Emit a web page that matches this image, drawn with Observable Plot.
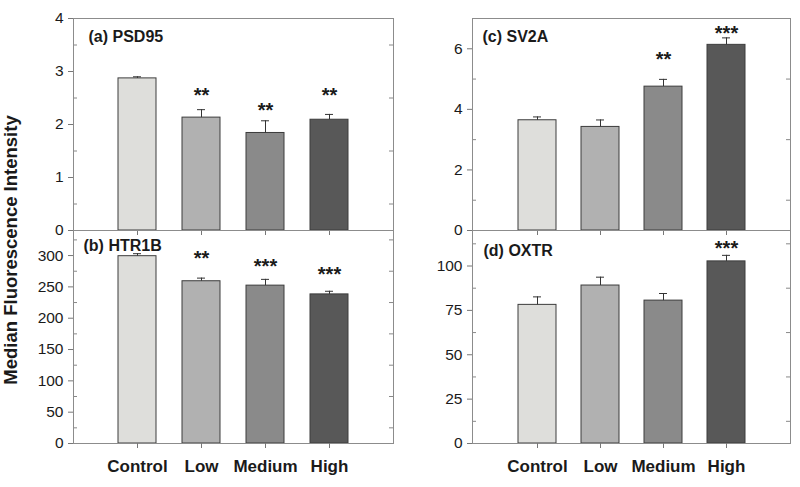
<!DOCTYPE html>
<html>
<head>
<meta charset="utf-8">
<script src="https://cdn.jsdelivr.net/npm/d3@7"></script>
<script src="https://cdn.jsdelivr.net/npm/@observablehq/plot@0.6"></script>
<style>
  html, body { margin: 0; padding: 0; background: #fff; }
  #chart { position: relative; width: 800px; height: 487px; background: #fff; overflow: hidden; }
  #chart > svg { position: absolute; }
</style>
</head>
<body>
<div id="chart"></div>
<script>
// ---- data ----
const categories = ["Control", "Low", "Medium", "High"];
const barColors = ["#dededb", "#b1b1b1", "#8a8a8a", "#585858"];

const psd95Mean = [2.87, 2.13, 1.84, 2.09];
const psd95Sem = [0.03, 0.15, 0.23, 0.10];
const psd95Stars = ["", "**", "**", "**"];
const psd95StarY = [null, 2.58, 2.30, 2.58];
const psd95Ticks = [0, 1, 2, 3, 4];
const psd95Minor = [0.5, 1.5, 2.5, 3.5];

const htr1bMean = [299, 259, 252, 238];
const htr1bSem = [4, 5, 10, 5];
const htr1bStars = ["", "**", "***", "***"];
const htr1bStarY = [null, 299, 286, 273];
const htr1bTicks = [0, 50, 100, 150, 200, 250, 300];
const htr1bMinor = [25, 75, 125, 175, 225, 275, 325];

const sv2aMean = [3.64, 3.42, 4.75, 6.13];
const sv2aSem = [0.11, 0.23, 0.24, 0.23];
const sv2aStars = ["", "", "**", "***"];
const sv2aStarY = [null, null, 5.71, 6.58];
const sv2aTicks = [0, 2, 4, 6];
const sv2aMinor = [1, 3, 5];

const oxtrMean = [78.1, 89.0, 80.5, 102.6];
const oxtrSem = [4.5, 4.7, 4.0, 3.4];
const oxtrStars = ["", "", "", "***"];
const oxtrStarY = [null, null, null, 110.7];
const oxtrTicks = [0, 25, 50, 75, 100];
const oxtrMinor = [12.5, 37.5, 62.5, 87.5, 112.5];

const yTitle = "Median Fluorescence Intensity";

// ---- drawing ----
const FONT = "'Liberation Sans', Arial, Helvetica, sans-serif";
const root = document.getElementById("chart");

function panel(cfg) {
  const rows = categories.map((c, i) => ({
    cat: c, mean: cfg.mean[i], hi: cfg.mean[i] + cfg.sem[i],
    star: cfg.stars[i], starY: cfg.starY[i]
  }));
  const frameW = cfg.width - cfg.ml - cfg.mr;
  const p = Plot.plot({
    width: cfg.width, height: cfg.height,
    marginLeft: cfg.ml, marginRight: cfg.mr, marginTop: cfg.mt, marginBottom: cfg.mb,
    style: { fontFamily: FONT, fontSize: "15px", color: "#1a1a1a", background: "transparent", overflow: "visible" },
    x: { type: "band", domain: categories, paddingInner: 0.4, paddingOuter: 0.7, axis: null },
    y: { domain: cfg.domain, axis: null },
    color: { domain: categories, range: barColors },
    marks: [
      Plot.barY(rows, { x: "cat", y: "mean", fill: "cat", stroke: "#3c3c3c", strokeWidth: 1 }),
      Plot.ruleX(rows, { x: "cat", y1: "mean", y2: "hi", stroke: "#333", strokeWidth: 1 }),
      Plot.tickY(rows, { x: "cat", y: "hi", stroke: "#333", strokeWidth: 1, insetLeft: 15, insetRight: 15 }),
      Plot.text(rows.filter(d => d.star), { x: "cat", y: "starY", text: "star", fontSize: 20, fontWeight: "bold", fill: "#1a1a1a", dy: 2 }),
      Plot.tickY(cfg.minor, { y: d => d, stroke: "#888", insetRight: frameW - 4 }),
      Plot.tickY(cfg.minor, { y: d => d, stroke: "#888", insetLeft: frameW - 4 }),
      Plot.frame({ stroke: "#8c8c8c", strokeWidth: 1 }),
      Plot.axisY({ anchor: "left", ticks: cfg.ticks, tickFormat: d => String(d), tickSize: 5, tickPadding: 5,
        label: null, stroke: "#777", fill: "#1a1a1a", fontSize: 15.5 }),
      Plot.axisX({ anchor: "bottom", tickSize: 5, tickPadding: 11, label: null, stroke: "#777", fill: "#1a1a1a",
        fontSize: 17, fontWeight: "bold", tickFormat: cfg.showX ? (d => d) : (() => "") }),
      Plot.text([cfg.label], { frameAnchor: "top-left", textAnchor: "start", lineAnchor: "top",
        dx: cfg.ldx, dy: cfg.ldy, fontSize: 16, fontWeight: "bold", fill: "#1a1a1a" })
    ]
  });
  p.style.left = cfg.left + "px";
  p.style.top = cfg.top + "px";
  root.appendChild(p);
}

panel({ mean: psd95Mean, sem: psd95Sem, stars: psd95Stars, starY: psd95StarY, ticks: psd95Ticks, minor: psd95Minor,
  domain: [0, 4], label: "(a) PSD95", left: 0, top: 0, width: 400, height: 240, ml: 73, mr: 7, mt: 18, mb: 10,
  showX: false, ldx: 15, ldy: 12 });
panel({ mean: htr1bMean, sem: htr1bSem, stars: htr1bStars, starY: htr1bStarY, ticks: htr1bTicks, minor: htr1bMinor,
  domain: [0, 340], label: "(b) HTR1B", left: 0, top: 220, width: 400, height: 267, ml: 73, mr: 7, mt: 10, mb: 44,
  showX: true, ldx: 10, ldy: 9 });
panel({ mean: sv2aMean, sem: sv2aSem, stars: sv2aStars, starY: sv2aStarY, ticks: sv2aTicks, minor: sv2aMinor,
  domain: [0, 7], label: "(c) SV2A", left: 400, top: 0, width: 400, height: 240, ml: 72, mr: 10, mt: 18, mb: 10,
  showX: false, ldx: 10, ldy: 12 });
panel({ mean: oxtrMean, sem: oxtrSem, stars: oxtrStars, starY: oxtrStarY, ticks: oxtrTicks, minor: oxtrMinor,
  domain: [0, 120], label: "(d) OXTR", left: 400, top: 220, width: 400, height: 267, ml: 72, mr: 10, mt: 10, mb: 44,
  showX: true, ldx: 11, ldy: 14 });

// shared y-axis title
const t = d3.select(root).append("svg")
  .attr("width", 40).attr("height", 487)
  .style("left", "0px").style("top", "0px");
t.append("text")
  .attr("transform", "translate(17,250) rotate(-90)")
  .attr("text-anchor", "middle")
  .attr("font-family", FONT)
  .attr("font-size", 18.5)
  .attr("font-weight", "bold")
  .attr("fill", "#1a1a1a")
  .text(yTitle);
</script>
</body>
</html>
